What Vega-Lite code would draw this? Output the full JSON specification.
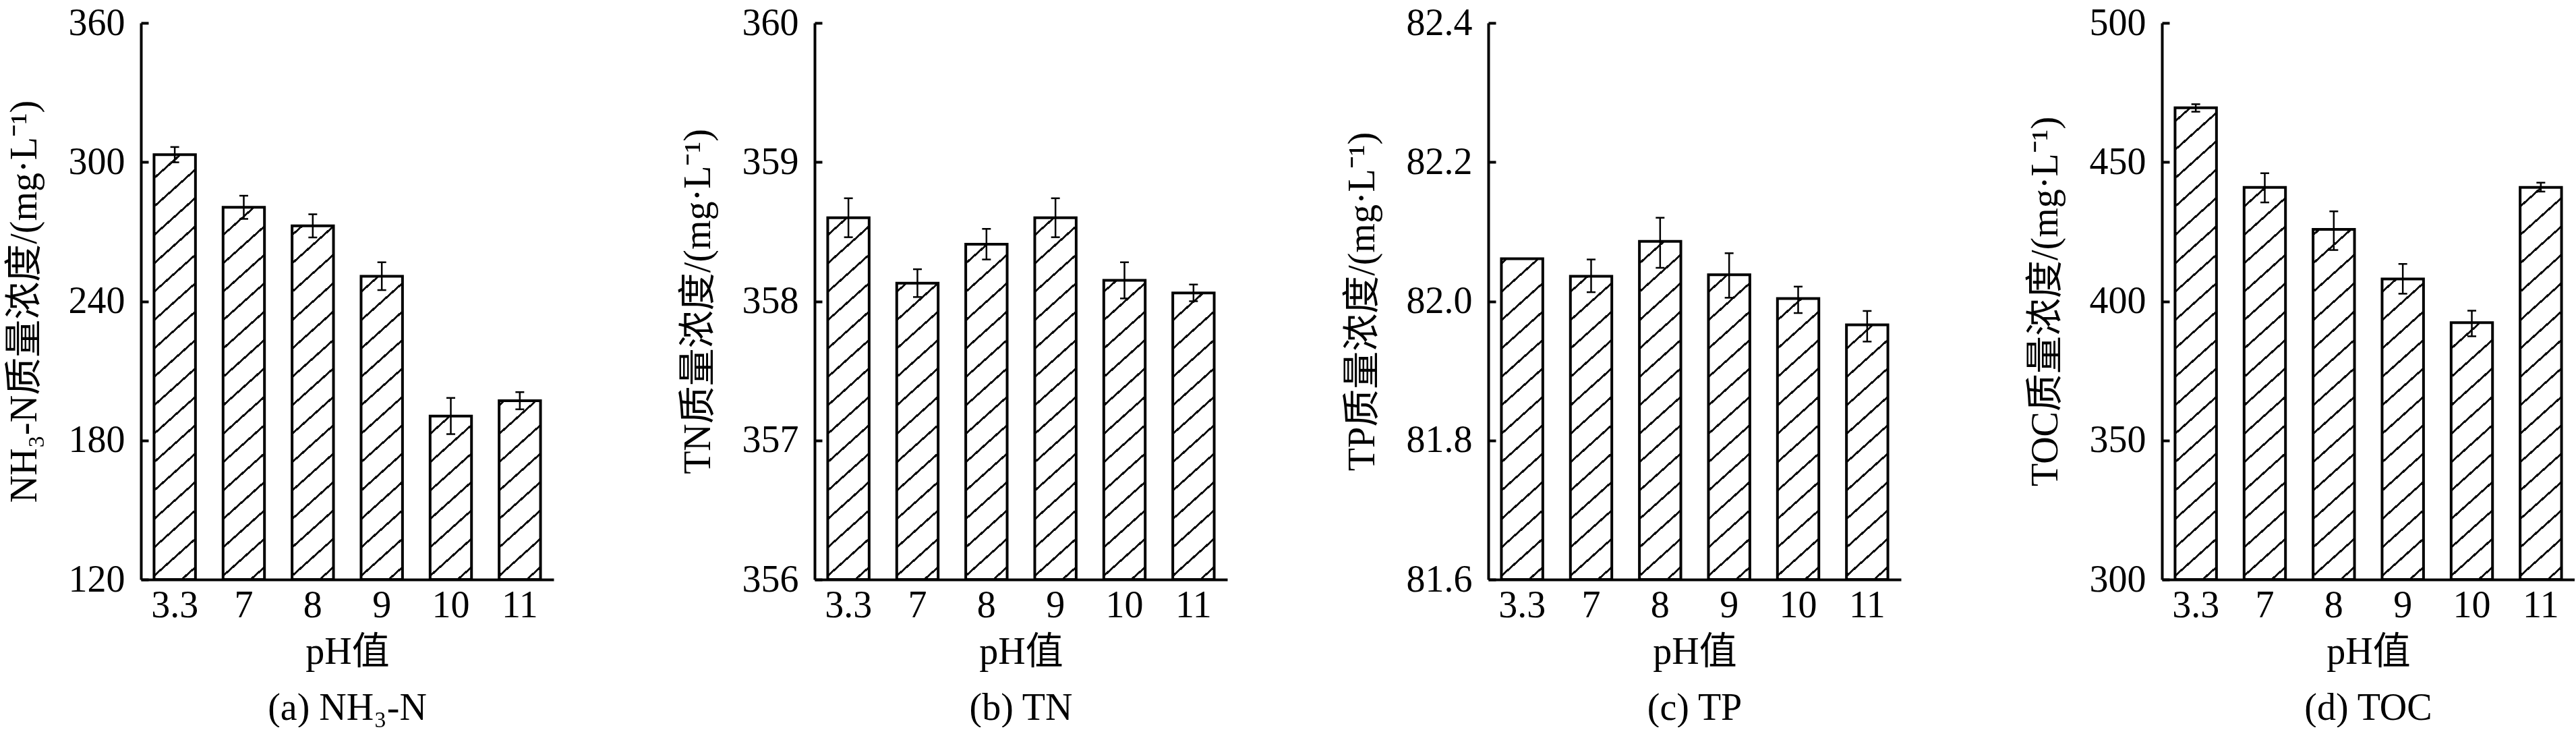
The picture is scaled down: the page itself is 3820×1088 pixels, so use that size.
{
  "$schema": "https://vega.github.io/schema/vega-lite/v6.json",
  "description": "Effect of pH on NH3-N, TN, TP and TOC mass concentration",
  "padding": {"left": 8, "top": 6, "right": 0, "bottom": 0},
  "spacing": 387,
  "bounds": "flush",
  "datasets": {
    "nh3": [
      {"pH": "3.3", "v": 303.2, "lo": 299.9, "hi": 306.5},
      {"pH": "7", "v": 280.5, "lo": 275.5, "hi": 285.5},
      {"pH": "8", "v": 272.5, "lo": 267.5, "hi": 277.5},
      {"pH": "9", "v": 250.8, "lo": 244.8, "hi": 256.8},
      {"pH": "10", "v": 190.5, "lo": 182.7, "hi": 198.3},
      {"pH": "11", "v": 197.1, "lo": 193.4, "hi": 200.8}
    ],
    "tn": [
      {"pH": "3.3", "v": 358.6, "lo": 358.46, "hi": 358.74},
      {"pH": "7", "v": 358.13, "lo": 358.03, "hi": 358.23},
      {"pH": "8", "v": 358.41, "lo": 358.3, "hi": 358.52},
      {"pH": "9", "v": 358.6, "lo": 358.46, "hi": 358.74},
      {"pH": "10", "v": 358.15, "lo": 358.02, "hi": 358.28},
      {"pH": "11", "v": 358.06, "lo": 358.0, "hi": 358.12}
    ],
    "tp": [
      {"pH": "3.3", "v": 82.061, "lo": 82.061, "hi": 82.061},
      {"pH": "7", "v": 82.036, "lo": 82.013, "hi": 82.06},
      {"pH": "8", "v": 82.086, "lo": 82.048, "hi": 82.12},
      {"pH": "9", "v": 82.038, "lo": 82.005, "hi": 82.069},
      {"pH": "10", "v": 82.004, "lo": 81.983, "hi": 82.021},
      {"pH": "11", "v": 81.966, "lo": 81.942, "hi": 81.986}
    ],
    "toc": [
      {"pH": "3.3", "v": 469.5, "lo": 468.1, "hi": 470.8},
      {"pH": "7", "v": 440.9, "lo": 435.5, "hi": 446.0},
      {"pH": "8", "v": 425.8, "lo": 418.4, "hi": 432.3},
      {"pH": "9", "v": 408.0, "lo": 402.7, "hi": 413.4},
      {"pH": "10", "v": 392.3, "lo": 387.4, "hi": 396.6},
      {"pH": "11", "v": 440.9, "lo": 439.4, "hi": 442.6}
    ]
  },
  "hconcat": [
    {
      "width": 612,
      "height": 825,
      "data": {"name": "nh3"},
      "title": {"text": "(a) NH₃-N", "orient": "bottom", "offset": 29},
      "encoding": {
        "x": {"field": "pH", "type": "ordinal", "sort": null, "scale": {"paddingInner": 0.4, "paddingOuter": 0.19}, "axis": {"title": "pH值"}}
      },
      "layer": [
        {
          "mark": {"type": "bar", "strokeWidth": 0, "fill": {"gradient": "linear", "x1": 0, "y1": 0, "x2": 0.0708, "y2": 1.062, "stops": [
            {"offset": 0, "color": "white"},
            {"offset": 0.02, "color": "white"}, {"offset": 0.02, "color": "#111"}, {"offset": 0.0246, "color": "#111"}, {"offset": 0.0246, "color": "white"},
            {"offset": 0.0678, "color": "white"}, {"offset": 0.0678, "color": "#111"}, {"offset": 0.0724, "color": "#111"}, {"offset": 0.0724, "color": "white"},
            {"offset": 0.1157, "color": "white"}, {"offset": 0.1157, "color": "#111"}, {"offset": 0.1203, "color": "#111"}, {"offset": 0.1203, "color": "white"},
            {"offset": 0.1635, "color": "white"}, {"offset": 0.1635, "color": "#111"}, {"offset": 0.1681, "color": "#111"}, {"offset": 0.1681, "color": "white"},
            {"offset": 0.2114, "color": "white"}, {"offset": 0.2114, "color": "#111"}, {"offset": 0.216, "color": "#111"}, {"offset": 0.216, "color": "white"},
            {"offset": 0.2592, "color": "white"}, {"offset": 0.2592, "color": "#111"}, {"offset": 0.2638, "color": "#111"}, {"offset": 0.2638, "color": "white"},
            {"offset": 0.307, "color": "white"}, {"offset": 0.307, "color": "#111"}, {"offset": 0.3116, "color": "#111"}, {"offset": 0.3116, "color": "white"},
            {"offset": 0.3549, "color": "white"}, {"offset": 0.3549, "color": "#111"}, {"offset": 0.3595, "color": "#111"}, {"offset": 0.3595, "color": "white"},
            {"offset": 0.4027, "color": "white"}, {"offset": 0.4027, "color": "#111"}, {"offset": 0.4073, "color": "#111"}, {"offset": 0.4073, "color": "white"},
            {"offset": 0.4506, "color": "white"}, {"offset": 0.4506, "color": "#111"}, {"offset": 0.4552, "color": "#111"}, {"offset": 0.4552, "color": "white"},
            {"offset": 0.4984, "color": "white"}, {"offset": 0.4984, "color": "#111"}, {"offset": 0.503, "color": "#111"}, {"offset": 0.503, "color": "white"},
            {"offset": 0.5462, "color": "white"}, {"offset": 0.5462, "color": "#111"}, {"offset": 0.5508, "color": "#111"}, {"offset": 0.5508, "color": "white"},
            {"offset": 0.5941, "color": "white"}, {"offset": 0.5941, "color": "#111"}, {"offset": 0.5987, "color": "#111"}, {"offset": 0.5987, "color": "white"},
            {"offset": 0.6419, "color": "white"}, {"offset": 0.6419, "color": "#111"}, {"offset": 0.6465, "color": "#111"}, {"offset": 0.6465, "color": "white"},
            {"offset": 0.6898, "color": "white"}, {"offset": 0.6898, "color": "#111"}, {"offset": 0.6944, "color": "#111"}, {"offset": 0.6944, "color": "white"},
            {"offset": 0.7376, "color": "white"}, {"offset": 0.7376, "color": "#111"}, {"offset": 0.7422, "color": "#111"}, {"offset": 0.7422, "color": "white"},
            {"offset": 0.7854, "color": "white"}, {"offset": 0.7854, "color": "#111"}, {"offset": 0.79, "color": "#111"}, {"offset": 0.79, "color": "white"},
            {"offset": 0.8333, "color": "white"}, {"offset": 0.8333, "color": "#111"}, {"offset": 0.8379, "color": "#111"}, {"offset": 0.8379, "color": "white"},
            {"offset": 0.8811, "color": "white"}, {"offset": 0.8811, "color": "#111"}, {"offset": 0.8857, "color": "#111"}, {"offset": 0.8857, "color": "white"},
            {"offset": 0.929, "color": "white"}, {"offset": 0.929, "color": "#111"}, {"offset": 0.9336, "color": "#111"}, {"offset": 0.9336, "color": "white"},
            {"offset": 0.9768, "color": "white"}, {"offset": 0.9768, "color": "#111"}, {"offset": 0.9814, "color": "#111"}, {"offset": 0.9814, "color": "white"},
            {"offset": 1, "color": "white"}
          ]}},
          "encoding": {
            "y": {"datum": 360, "type": "quantitative", "scale": {"domain": [120, 360], "nice": false, "zero": false},
              "axis": {"title": "NH₃-N质量浓度/(mg·L⁻¹)", "values": [120, 180, 240, 300, 360]}},
            "y2": {"datum": 120}
          }
        },
        {
          "mark": {"type": "bar", "fill": "white", "stroke": "white", "strokeWidth": 2},
          "encoding": {"y": {"field": "v", "type": "quantitative"}, "y2": {"datum": 360}}
        },
        {
          "mark": {"type": "bar", "fillOpacity": 0, "stroke": "black", "strokeWidth": 4},
          "encoding": {"y": {"field": "v", "type": "quantitative"}, "y2": {"datum": 120}}
        },
        {
          "mark": {"type": "rule", "color": "black", "strokeWidth": 2.5},
          "encoding": {"y": {"field": "lo", "type": "quantitative"}, "y2": {"field": "hi"}}
        },
        {
          "mark": {"type": "tick", "color": "black", "opacity": 1, "size": 13, "thickness": 2.5},
          "encoding": {"y": {"field": "lo", "type": "quantitative"}}
        },
        {
          "mark": {"type": "tick", "color": "black", "opacity": 1, "size": 13, "thickness": 2.5},
          "encoding": {"y": {"field": "hi", "type": "quantitative"}}
        }
      ]
    },
    {
      "width": 612,
      "height": 825,
      "data": {"name": "tn"},
      "title": {"text": "(b) TN", "orient": "bottom", "offset": 29},
      "encoding": {
        "x": {"field": "pH", "type": "ordinal", "sort": null, "scale": {"paddingInner": 0.4, "paddingOuter": 0.19}, "axis": {"title": "pH值"}}
      },
      "layer": [
        {
          "mark": {"type": "bar", "strokeWidth": 0, "fill": {"gradient": "linear", "x1": 0, "y1": 0, "x2": 0.0708, "y2": 1.062, "stops": [
            {"offset": 0, "color": "white"},
            {"offset": 0.02, "color": "white"}, {"offset": 0.02, "color": "#111"}, {"offset": 0.0246, "color": "#111"}, {"offset": 0.0246, "color": "white"},
            {"offset": 0.0678, "color": "white"}, {"offset": 0.0678, "color": "#111"}, {"offset": 0.0724, "color": "#111"}, {"offset": 0.0724, "color": "white"},
            {"offset": 0.1157, "color": "white"}, {"offset": 0.1157, "color": "#111"}, {"offset": 0.1203, "color": "#111"}, {"offset": 0.1203, "color": "white"},
            {"offset": 0.1635, "color": "white"}, {"offset": 0.1635, "color": "#111"}, {"offset": 0.1681, "color": "#111"}, {"offset": 0.1681, "color": "white"},
            {"offset": 0.2114, "color": "white"}, {"offset": 0.2114, "color": "#111"}, {"offset": 0.216, "color": "#111"}, {"offset": 0.216, "color": "white"},
            {"offset": 0.2592, "color": "white"}, {"offset": 0.2592, "color": "#111"}, {"offset": 0.2638, "color": "#111"}, {"offset": 0.2638, "color": "white"},
            {"offset": 0.307, "color": "white"}, {"offset": 0.307, "color": "#111"}, {"offset": 0.3116, "color": "#111"}, {"offset": 0.3116, "color": "white"},
            {"offset": 0.3549, "color": "white"}, {"offset": 0.3549, "color": "#111"}, {"offset": 0.3595, "color": "#111"}, {"offset": 0.3595, "color": "white"},
            {"offset": 0.4027, "color": "white"}, {"offset": 0.4027, "color": "#111"}, {"offset": 0.4073, "color": "#111"}, {"offset": 0.4073, "color": "white"},
            {"offset": 0.4506, "color": "white"}, {"offset": 0.4506, "color": "#111"}, {"offset": 0.4552, "color": "#111"}, {"offset": 0.4552, "color": "white"},
            {"offset": 0.4984, "color": "white"}, {"offset": 0.4984, "color": "#111"}, {"offset": 0.503, "color": "#111"}, {"offset": 0.503, "color": "white"},
            {"offset": 0.5462, "color": "white"}, {"offset": 0.5462, "color": "#111"}, {"offset": 0.5508, "color": "#111"}, {"offset": 0.5508, "color": "white"},
            {"offset": 0.5941, "color": "white"}, {"offset": 0.5941, "color": "#111"}, {"offset": 0.5987, "color": "#111"}, {"offset": 0.5987, "color": "white"},
            {"offset": 0.6419, "color": "white"}, {"offset": 0.6419, "color": "#111"}, {"offset": 0.6465, "color": "#111"}, {"offset": 0.6465, "color": "white"},
            {"offset": 0.6898, "color": "white"}, {"offset": 0.6898, "color": "#111"}, {"offset": 0.6944, "color": "#111"}, {"offset": 0.6944, "color": "white"},
            {"offset": 0.7376, "color": "white"}, {"offset": 0.7376, "color": "#111"}, {"offset": 0.7422, "color": "#111"}, {"offset": 0.7422, "color": "white"},
            {"offset": 0.7854, "color": "white"}, {"offset": 0.7854, "color": "#111"}, {"offset": 0.79, "color": "#111"}, {"offset": 0.79, "color": "white"},
            {"offset": 0.8333, "color": "white"}, {"offset": 0.8333, "color": "#111"}, {"offset": 0.8379, "color": "#111"}, {"offset": 0.8379, "color": "white"},
            {"offset": 0.8811, "color": "white"}, {"offset": 0.8811, "color": "#111"}, {"offset": 0.8857, "color": "#111"}, {"offset": 0.8857, "color": "white"},
            {"offset": 0.929, "color": "white"}, {"offset": 0.929, "color": "#111"}, {"offset": 0.9336, "color": "#111"}, {"offset": 0.9336, "color": "white"},
            {"offset": 0.9768, "color": "white"}, {"offset": 0.9768, "color": "#111"}, {"offset": 0.9814, "color": "#111"}, {"offset": 0.9814, "color": "white"},
            {"offset": 1, "color": "white"}
          ]}},
          "encoding": {
            "y": {"datum": 360, "type": "quantitative", "scale": {"domain": [356, 360], "nice": false, "zero": false},
              "axis": {"title": "TN质量浓度/(mg·L⁻¹)", "values": [356, 357, 358, 359, 360], "format": "d"}},
            "y2": {"datum": 356}
          }
        },
        {
          "mark": {"type": "bar", "fill": "white", "stroke": "white", "strokeWidth": 2},
          "encoding": {"y": {"field": "v", "type": "quantitative"}, "y2": {"datum": 360}}
        },
        {
          "mark": {"type": "bar", "fillOpacity": 0, "stroke": "black", "strokeWidth": 4},
          "encoding": {"y": {"field": "v", "type": "quantitative"}, "y2": {"datum": 356}}
        },
        {
          "mark": {"type": "rule", "color": "black", "strokeWidth": 2.5},
          "encoding": {"y": {"field": "lo", "type": "quantitative"}, "y2": {"field": "hi"}}
        },
        {
          "mark": {"type": "tick", "color": "black", "opacity": 1, "size": 13, "thickness": 2.5},
          "encoding": {"y": {"field": "lo", "type": "quantitative"}}
        },
        {
          "mark": {"type": "tick", "color": "black", "opacity": 1, "size": 13, "thickness": 2.5},
          "encoding": {"y": {"field": "hi", "type": "quantitative"}}
        }
      ]
    },
    {
      "width": 612,
      "height": 825,
      "data": {"name": "tp"},
      "title": {"text": "(c) TP", "orient": "bottom", "offset": 29},
      "encoding": {
        "x": {"field": "pH", "type": "ordinal", "sort": null, "scale": {"paddingInner": 0.4, "paddingOuter": 0.19}, "axis": {"title": "pH值"}}
      },
      "layer": [
        {
          "mark": {"type": "bar", "strokeWidth": 0, "fill": {"gradient": "linear", "x1": 0, "y1": 0, "x2": 0.0708, "y2": 1.062, "stops": [
            {"offset": 0, "color": "white"},
            {"offset": 0.02, "color": "white"}, {"offset": 0.02, "color": "#111"}, {"offset": 0.0246, "color": "#111"}, {"offset": 0.0246, "color": "white"},
            {"offset": 0.0678, "color": "white"}, {"offset": 0.0678, "color": "#111"}, {"offset": 0.0724, "color": "#111"}, {"offset": 0.0724, "color": "white"},
            {"offset": 0.1157, "color": "white"}, {"offset": 0.1157, "color": "#111"}, {"offset": 0.1203, "color": "#111"}, {"offset": 0.1203, "color": "white"},
            {"offset": 0.1635, "color": "white"}, {"offset": 0.1635, "color": "#111"}, {"offset": 0.1681, "color": "#111"}, {"offset": 0.1681, "color": "white"},
            {"offset": 0.2114, "color": "white"}, {"offset": 0.2114, "color": "#111"}, {"offset": 0.216, "color": "#111"}, {"offset": 0.216, "color": "white"},
            {"offset": 0.2592, "color": "white"}, {"offset": 0.2592, "color": "#111"}, {"offset": 0.2638, "color": "#111"}, {"offset": 0.2638, "color": "white"},
            {"offset": 0.307, "color": "white"}, {"offset": 0.307, "color": "#111"}, {"offset": 0.3116, "color": "#111"}, {"offset": 0.3116, "color": "white"},
            {"offset": 0.3549, "color": "white"}, {"offset": 0.3549, "color": "#111"}, {"offset": 0.3595, "color": "#111"}, {"offset": 0.3595, "color": "white"},
            {"offset": 0.4027, "color": "white"}, {"offset": 0.4027, "color": "#111"}, {"offset": 0.4073, "color": "#111"}, {"offset": 0.4073, "color": "white"},
            {"offset": 0.4506, "color": "white"}, {"offset": 0.4506, "color": "#111"}, {"offset": 0.4552, "color": "#111"}, {"offset": 0.4552, "color": "white"},
            {"offset": 0.4984, "color": "white"}, {"offset": 0.4984, "color": "#111"}, {"offset": 0.503, "color": "#111"}, {"offset": 0.503, "color": "white"},
            {"offset": 0.5462, "color": "white"}, {"offset": 0.5462, "color": "#111"}, {"offset": 0.5508, "color": "#111"}, {"offset": 0.5508, "color": "white"},
            {"offset": 0.5941, "color": "white"}, {"offset": 0.5941, "color": "#111"}, {"offset": 0.5987, "color": "#111"}, {"offset": 0.5987, "color": "white"},
            {"offset": 0.6419, "color": "white"}, {"offset": 0.6419, "color": "#111"}, {"offset": 0.6465, "color": "#111"}, {"offset": 0.6465, "color": "white"},
            {"offset": 0.6898, "color": "white"}, {"offset": 0.6898, "color": "#111"}, {"offset": 0.6944, "color": "#111"}, {"offset": 0.6944, "color": "white"},
            {"offset": 0.7376, "color": "white"}, {"offset": 0.7376, "color": "#111"}, {"offset": 0.7422, "color": "#111"}, {"offset": 0.7422, "color": "white"},
            {"offset": 0.7854, "color": "white"}, {"offset": 0.7854, "color": "#111"}, {"offset": 0.79, "color": "#111"}, {"offset": 0.79, "color": "white"},
            {"offset": 0.8333, "color": "white"}, {"offset": 0.8333, "color": "#111"}, {"offset": 0.8379, "color": "#111"}, {"offset": 0.8379, "color": "white"},
            {"offset": 0.8811, "color": "white"}, {"offset": 0.8811, "color": "#111"}, {"offset": 0.8857, "color": "#111"}, {"offset": 0.8857, "color": "white"},
            {"offset": 0.929, "color": "white"}, {"offset": 0.929, "color": "#111"}, {"offset": 0.9336, "color": "#111"}, {"offset": 0.9336, "color": "white"},
            {"offset": 0.9768, "color": "white"}, {"offset": 0.9768, "color": "#111"}, {"offset": 0.9814, "color": "#111"}, {"offset": 0.9814, "color": "white"},
            {"offset": 1, "color": "white"}
          ]}},
          "encoding": {
            "y": {"datum": 82.4, "type": "quantitative", "scale": {"domain": [81.6, 82.4], "nice": false, "zero": false},
              "axis": {"title": "TP质量浓度/(mg·L⁻¹)", "values": [81.6, 81.8, 82.0, 82.2, 82.4], "format": ".1f"}},
            "y2": {"datum": 81.6}
          }
        },
        {
          "mark": {"type": "bar", "fill": "white", "stroke": "white", "strokeWidth": 2},
          "encoding": {"y": {"field": "v", "type": "quantitative"}, "y2": {"datum": 82.4}}
        },
        {
          "mark": {"type": "bar", "fillOpacity": 0, "stroke": "black", "strokeWidth": 4},
          "encoding": {"y": {"field": "v", "type": "quantitative"}, "y2": {"datum": 81.6}}
        },
        {
          "mark": {"type": "rule", "color": "black", "strokeWidth": 2.5},
          "encoding": {"y": {"field": "lo", "type": "quantitative"}, "y2": {"field": "hi"}}
        },
        {
          "mark": {"type": "tick", "color": "black", "opacity": 1, "size": 13, "thickness": 2.5},
          "encoding": {"y": {"field": "lo", "type": "quantitative"}}
        },
        {
          "mark": {"type": "tick", "color": "black", "opacity": 1, "size": 13, "thickness": 2.5},
          "encoding": {"y": {"field": "hi", "type": "quantitative"}}
        }
      ]
    },
    {
      "width": 612,
      "height": 825,
      "data": {"name": "toc"},
      "title": {"text": "(d) TOC", "orient": "bottom", "offset": 29},
      "encoding": {
        "x": {"field": "pH", "type": "ordinal", "sort": null, "scale": {"paddingInner": 0.4, "paddingOuter": 0.19}, "axis": {"title": "pH值"}}
      },
      "layer": [
        {
          "mark": {"type": "bar", "strokeWidth": 0, "fill": {"gradient": "linear", "x1": 0, "y1": 0, "x2": 0.0708, "y2": 1.062, "stops": [
            {"offset": 0, "color": "white"},
            {"offset": 0.02, "color": "white"}, {"offset": 0.02, "color": "#111"}, {"offset": 0.0246, "color": "#111"}, {"offset": 0.0246, "color": "white"},
            {"offset": 0.0678, "color": "white"}, {"offset": 0.0678, "color": "#111"}, {"offset": 0.0724, "color": "#111"}, {"offset": 0.0724, "color": "white"},
            {"offset": 0.1157, "color": "white"}, {"offset": 0.1157, "color": "#111"}, {"offset": 0.1203, "color": "#111"}, {"offset": 0.1203, "color": "white"},
            {"offset": 0.1635, "color": "white"}, {"offset": 0.1635, "color": "#111"}, {"offset": 0.1681, "color": "#111"}, {"offset": 0.1681, "color": "white"},
            {"offset": 0.2114, "color": "white"}, {"offset": 0.2114, "color": "#111"}, {"offset": 0.216, "color": "#111"}, {"offset": 0.216, "color": "white"},
            {"offset": 0.2592, "color": "white"}, {"offset": 0.2592, "color": "#111"}, {"offset": 0.2638, "color": "#111"}, {"offset": 0.2638, "color": "white"},
            {"offset": 0.307, "color": "white"}, {"offset": 0.307, "color": "#111"}, {"offset": 0.3116, "color": "#111"}, {"offset": 0.3116, "color": "white"},
            {"offset": 0.3549, "color": "white"}, {"offset": 0.3549, "color": "#111"}, {"offset": 0.3595, "color": "#111"}, {"offset": 0.3595, "color": "white"},
            {"offset": 0.4027, "color": "white"}, {"offset": 0.4027, "color": "#111"}, {"offset": 0.4073, "color": "#111"}, {"offset": 0.4073, "color": "white"},
            {"offset": 0.4506, "color": "white"}, {"offset": 0.4506, "color": "#111"}, {"offset": 0.4552, "color": "#111"}, {"offset": 0.4552, "color": "white"},
            {"offset": 0.4984, "color": "white"}, {"offset": 0.4984, "color": "#111"}, {"offset": 0.503, "color": "#111"}, {"offset": 0.503, "color": "white"},
            {"offset": 0.5462, "color": "white"}, {"offset": 0.5462, "color": "#111"}, {"offset": 0.5508, "color": "#111"}, {"offset": 0.5508, "color": "white"},
            {"offset": 0.5941, "color": "white"}, {"offset": 0.5941, "color": "#111"}, {"offset": 0.5987, "color": "#111"}, {"offset": 0.5987, "color": "white"},
            {"offset": 0.6419, "color": "white"}, {"offset": 0.6419, "color": "#111"}, {"offset": 0.6465, "color": "#111"}, {"offset": 0.6465, "color": "white"},
            {"offset": 0.6898, "color": "white"}, {"offset": 0.6898, "color": "#111"}, {"offset": 0.6944, "color": "#111"}, {"offset": 0.6944, "color": "white"},
            {"offset": 0.7376, "color": "white"}, {"offset": 0.7376, "color": "#111"}, {"offset": 0.7422, "color": "#111"}, {"offset": 0.7422, "color": "white"},
            {"offset": 0.7854, "color": "white"}, {"offset": 0.7854, "color": "#111"}, {"offset": 0.79, "color": "#111"}, {"offset": 0.79, "color": "white"},
            {"offset": 0.8333, "color": "white"}, {"offset": 0.8333, "color": "#111"}, {"offset": 0.8379, "color": "#111"}, {"offset": 0.8379, "color": "white"},
            {"offset": 0.8811, "color": "white"}, {"offset": 0.8811, "color": "#111"}, {"offset": 0.8857, "color": "#111"}, {"offset": 0.8857, "color": "white"},
            {"offset": 0.929, "color": "white"}, {"offset": 0.929, "color": "#111"}, {"offset": 0.9336, "color": "#111"}, {"offset": 0.9336, "color": "white"},
            {"offset": 0.9768, "color": "white"}, {"offset": 0.9768, "color": "#111"}, {"offset": 0.9814, "color": "#111"}, {"offset": 0.9814, "color": "white"},
            {"offset": 1, "color": "white"}
          ]}},
          "encoding": {
            "y": {"datum": 500, "type": "quantitative", "scale": {"domain": [300, 500], "nice": false, "zero": false},
              "axis": {"title": "TOC质量浓度/(mg·L⁻¹)", "values": [300, 350, 400, 450, 500]}},
            "y2": {"datum": 300}
          }
        },
        {
          "mark": {"type": "bar", "fill": "white", "stroke": "white", "strokeWidth": 2},
          "encoding": {"y": {"field": "v", "type": "quantitative"}, "y2": {"datum": 500}}
        },
        {
          "mark": {"type": "bar", "fillOpacity": 0, "stroke": "black", "strokeWidth": 4},
          "encoding": {"y": {"field": "v", "type": "quantitative"}, "y2": {"datum": 300}}
        },
        {
          "mark": {"type": "rule", "color": "black", "strokeWidth": 2.5},
          "encoding": {"y": {"field": "lo", "type": "quantitative"}, "y2": {"field": "hi"}}
        },
        {
          "mark": {"type": "tick", "color": "black", "opacity": 1, "size": 13, "thickness": 2.5},
          "encoding": {"y": {"field": "lo", "type": "quantitative"}}
        },
        {
          "mark": {"type": "tick", "color": "black", "opacity": 1, "size": 13, "thickness": 2.5},
          "encoding": {"y": {"field": "hi", "type": "quantitative"}}
        }
      ]
    }
  ],
  "config": {
    "font": "Liberation Serif, Noto Sans CJK SC",
    "view": {"stroke": null},
    "title": {"fontSize": 56, "fontWeight": "normal", "color": "black", "font": "Liberation Serif, Noto Sans CJK SC"},
    "axis": {
      "grid": false,
      "zindex": 1,
      "labelFont": "Liberation Serif",
      "labelFontSize": 56,
      "labelColor": "black",
      "titleFont": "Liberation Serif, Noto Sans CJK SC",
      "titleFontSize": 56,
      "titleFontWeight": "normal",
      "titleColor": "black",
      "domainColor": "black",
      "domainWidth": 4,
      "tickColor": "black"
    },
    "axisX": {"labelAngle": 0, "tickSize": -7, "tickWidth": 2.5, "labelPadding": 18, "titlePadding": 14},
    "axisY": {"tickSize": -11, "tickWidth": 4, "labelPadding": 35, "titlePadding": 36}
  }
}
